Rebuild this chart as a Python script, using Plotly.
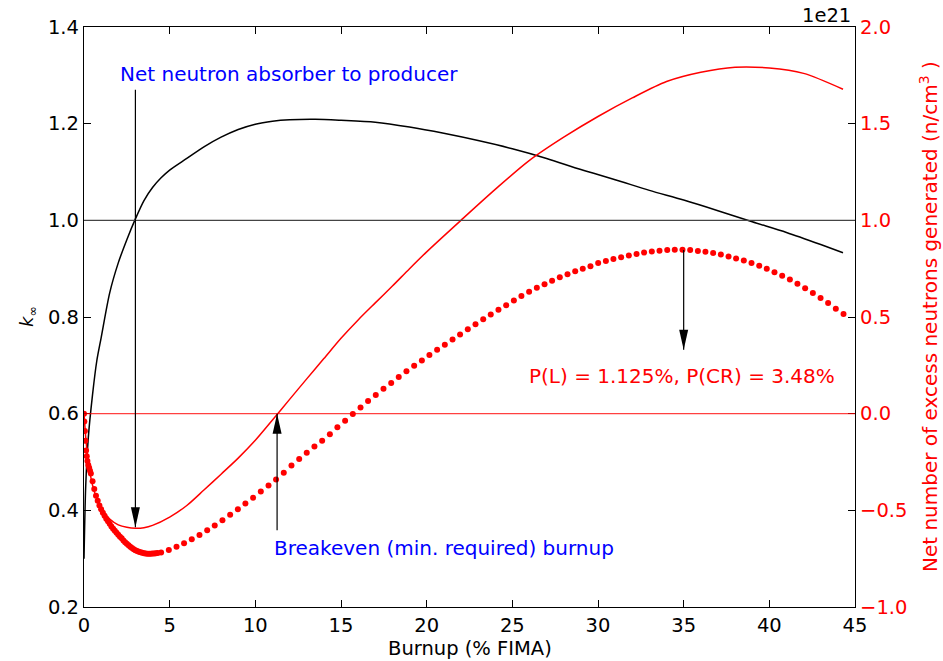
import plotly.graph_objects as go

# ---------------- data ----------------
# k-infinity vs burnup (left axis)
burnup_k = [0, 0.1, 0.25, 0.5, 0.75, 1.0, 1.5, 2.0, 2.5, 3.0, 3.5, 4.0, 4.5, 5.0, 6.0,
            7.0, 8.0, 9.0, 10, 11, 12, 13.5, 15, 17, 19, 21, 23, 25, 27, 29, 31, 33,
            35, 37, 39, 41, 43, 44.3]
k_inf = [0.30, 0.45, 0.55, 0.64, 0.71, 0.757, 0.85, 0.912, 0.96, 1.003, 1.041, 1.068,
         1.088, 1.104, 1.128, 1.152, 1.172, 1.188, 1.199, 1.205, 1.208, 1.209, 1.207,
         1.203, 1.193, 1.18, 1.165, 1.148, 1.128, 1.105, 1.084, 1.062, 1.042, 1.02,
         0.997, 0.975, 0.95, 0.933]

# net excess neutrons (right axis, units of 1e21 n/cm^3) - solid red
burnup_net = [0, 0.1, 0.25, 0.5, 0.75, 1.0, 1.5, 2.0, 2.5, 3.0, 3.5, 4.0, 5.0, 6.0,
              7.0, 8.0, 9.0, 10, 11, 12, 13, 14, 15, 16, 17, 18, 19, 20, 22, 24, 26,
              28, 30, 32, 34, 36, 38, 40, 42, 44.3]
net_solid = [0, -0.12, -0.25, -0.37, -0.44, -0.49, -0.545, -0.575, -0.588, -0.593,
             -0.59, -0.578, -0.535, -0.475, -0.395, -0.313, -0.23, -0.138, -0.033,
             0.074, 0.18, 0.285, 0.39, 0.485, 0.573, 0.66, 0.75, 0.837, 1.0, 1.16,
             1.31, 1.43, 1.537, 1.633, 1.718, 1.766, 1.792, 1.788, 1.76, 1.678]

# net excess neutrons - dotted red (P(L)=1.125%, P(CR)=3.48%)
burnup_dots = [0, 0.02, 0.05, 0.08, 0.12, 0.16, 0.2, 0.25, 0.3, 0.35, 0.4, 0.5, 0.6,
               0.7, 0.8, 0.9, 1.0, 1.1, 1.2, 1.3, 1.4, 1.5, 1.6, 1.7, 1.8, 1.9, 2.0,
               2.1, 2.2, 2.3, 2.4, 2.5, 2.6, 2.7, 2.8, 2.9, 3.0, 3.1, 3.2, 3.3, 3.4,
               3.5, 3.6, 3.7, 3.8, 3.9, 4.0, 4.1, 4.2, 4.3,
               4.50, 4.95, 5.40, 5.84, 6.29, 6.74, 7.19, 7.63, 8.08, 8.53, 8.98, 9.42,
               9.87, 10.32, 10.77, 11.21, 11.66, 12.11, 12.56, 13.00, 13.45, 13.90,
               14.35, 14.79, 15.24, 15.69, 16.14, 16.58, 17.03, 17.48, 17.93, 18.37,
               18.82, 19.27, 19.72, 20.16, 20.61, 21.06, 21.51, 21.95, 22.40, 22.85,
               23.30, 23.74, 24.19, 24.64, 25.09, 25.53, 25.98, 26.43, 26.88, 27.32,
               27.77, 28.22, 28.67, 29.11, 29.56, 30.01, 30.46, 30.90, 31.35, 31.80,
               32.25, 32.69, 33.14, 33.59, 34.04, 34.48, 34.93, 35.38, 35.83, 36.27,
               36.72, 37.17, 37.62, 38.06, 38.51, 38.96, 39.41, 39.85, 40.30, 40.75,
               41.20, 41.64, 42.09, 42.54, 42.99, 43.43, 43.88, 44.33]
net_dots = [0.0, -0.04, -0.09, -0.14, -0.19, -0.22, -0.245, -0.265, -0.28, -0.295,
            -0.31, -0.35, -0.39, -0.425, -0.45, -0.475, -0.495, -0.512, -0.528, -0.543,
            -0.557, -0.57, -0.583, -0.595, -0.606, -0.616, -0.626, -0.636, -0.645,
            -0.656, -0.665, -0.673, -0.681, -0.689, -0.695, -0.701, -0.706, -0.710,
            -0.714, -0.717, -0.72, -0.722, -0.723, -0.724, -0.724, -0.724, -0.723,
            -0.723, -0.722, -0.721,
            -0.718, -0.705, -0.689, -0.670, -0.650, -0.627, -0.603, -0.578, -0.551,
            -0.523, -0.494, -0.465, -0.435, -0.403, -0.371, -0.340, -0.305, -0.268,
            -0.235, -0.202, -0.170, -0.140, -0.106, -0.070, -0.036, -0.002, 0.032,
            0.065, 0.097, 0.129, 0.158, 0.190, 0.220, 0.248, 0.275, 0.303, 0.330,
            0.357, 0.384, 0.410, 0.437, 0.462, 0.488, 0.513, 0.537, 0.561, 0.585,
            0.608, 0.630, 0.651, 0.670, 0.688, 0.705, 0.721, 0.736, 0.750, 0.763,
            0.779, 0.790, 0.800, 0.809, 0.818, 0.826, 0.833, 0.839, 0.843, 0.846,
            0.848, 0.848, 0.846, 0.842, 0.837, 0.831, 0.823, 0.813, 0.803, 0.792,
            0.779, 0.765, 0.749, 0.732, 0.714, 0.694, 0.672, 0.649, 0.624, 0.598,
            0.572, 0.543, 0.515]

x_ticks = [0, 5, 10, 15, 20, 25, 30, 35, 40, 45]
k_ticks = [0.2, 0.4, 0.6, 0.8, 1.0, 1.2, 1.4]
net_ticks = [-1.0, -0.5, 0.0, 0.5, 1.0, 1.5, 2.0]

k_critical = 1.0
net_zero = 0.0

# annotation arrows: (x, tail, tip, axis, direction)
arrows = [
    (3.0, 1.27, 0.365, "y", "down"),
    (11.27, 0.359, 0.60, "y", "up"),
    (35.0, 0.846, 0.33, "y2", "down"),
]
labels = [
    ("Net neutron absorber to producer", 2.0, 1.303, "y", "blue"),
    ("Breakeven (min. required) burnup", 11.0, 0.322, "y", "blue"),
    ("P(L) = 1.125%, P(CR) = 3.48%", 25.86, 0.195, "y2", "red"),
]

FONT = "DejaVu Sans"

fig = go.Figure()
fig.add_trace(go.Scatter(x=burnup_k, y=k_inf, mode="lines",
                         line=dict(color="black", width=1.5, shape="spline",
                                   smoothing=0.8), yaxis="y"))
fig.add_trace(go.Scatter(x=burnup_net, y=net_solid, mode="lines",
                         line=dict(color="red", width=1.5, shape="spline",
                                   smoothing=0.8), yaxis="y2"))
fig.add_trace(go.Scatter(x=burnup_dots, y=net_dots, mode="markers",
                         marker=dict(color="red", size=6, line=dict(width=0)),
                         yaxis="y2"))

shapes = [
    dict(type="line", xref="paper", x0=0, x1=1, yref="y", y0=k_critical, y1=k_critical,
         line=dict(color="#444444", width=1.2)),
    dict(type="line", xref="paper", x0=0, x1=1, yref="y2", y0=net_zero, y1=net_zero,
         line=dict(color="rgba(255,0,0,0.75)", width=1.2)),
]
for x, tail, tip, ax, d in arrows:
    shapes.append(dict(type="line", xref="x", yref=ax, x0=x, x1=x, y0=tail, y1=tip,
                       line=dict(color="black", width=1.2)))
    hp = "M0,0 L-4.5,20 L4.5,20 Z" if d == "down" else "M0,0 L-4.5,-20 L4.5,-20 Z"
    shapes.append(dict(type="path", xref="x", yref=ax, xsizemode="pixel",
                       ysizemode="pixel", xanchor=x, yanchor=tip, path=hp,
                       fillcolor="black", line=dict(width=0)))

annotations = []
for text, x, y, ax, col in labels:
    annotations.append(dict(text=text, x=x, y=y, xref="x", yref=ax, xanchor="left",
                            yanchor="middle", showarrow=False,
                            font=dict(family=FONT, size=20, color=col)))
annotations += [
    dict(text="Burnup (% FIMA)", xref="paper", yref="paper", x=0.5, y=-0.0707,
         xanchor="center", yanchor="middle", showarrow=False,
         font=dict(family=FONT, size=19.5, color="black")),
    dict(text="Net number of excess neutrons generated (n/cm<sup>3</sup> )",
         xref="paper", yref="paper", x=1.096, y=0.5, xanchor="center",
         yanchor="middle", textangle=-90, showarrow=False,
         font=dict(family=FONT, size=20, color="red")),
    dict(text="<i>k</i><sub>∞</sub>", xref="paper", yref="paper", x=-0.0726, y=0.5,
         xanchor="center", yanchor="middle", textangle=-90, showarrow=False,
         font=dict(family=FONT, size=18, color="black")),
    dict(text="1e21", xref="paper", yref="paper", x=0.997, y=1.019,
         xanchor="right", yanchor="middle", showarrow=False,
         font=dict(family=FONT, size=19.5, color="black")),
]

axis_common = dict(ticks="inside", ticklen=7, tickwidth=1, tickcolor="black",
                   showline=True, linecolor="black", linewidth=1.3,
                   showgrid=False, zeroline=False)

fig.update_layout(
    width=943, height=661,
    margin=dict(l=84, r=88, t=27, b=54),
    paper_bgcolor="white", plot_bgcolor="white", showlegend=False,
    font=dict(family=FONT, size=19.5, color="black"),
    xaxis=dict(range=[0, 45], tickvals=x_ticks, mirror="ticks",
               tickfont=dict(family=FONT, size=19.5, color="black"), **axis_common),
    yaxis=dict(range=[0.2, 1.4], tickvals=k_ticks, tickformat=".1f", mirror=True,
               tickfont=dict(family=FONT, size=19.5, color="black"), **axis_common),
    yaxis2=dict(range=[-1.0, 2.0], tickvals=net_ticks, tickformat=".1f",
                overlaying="y", side="right",
                tickfont=dict(family=FONT, size=19.5, color="red"), **axis_common),
    shapes=shapes,
    annotations=annotations,
)

fig.write_html("out.html", config={"displayModeBar": False},
               post_script="document.body.style.margin='0px';"
                           "document.body.style.overflow='hidden';")
